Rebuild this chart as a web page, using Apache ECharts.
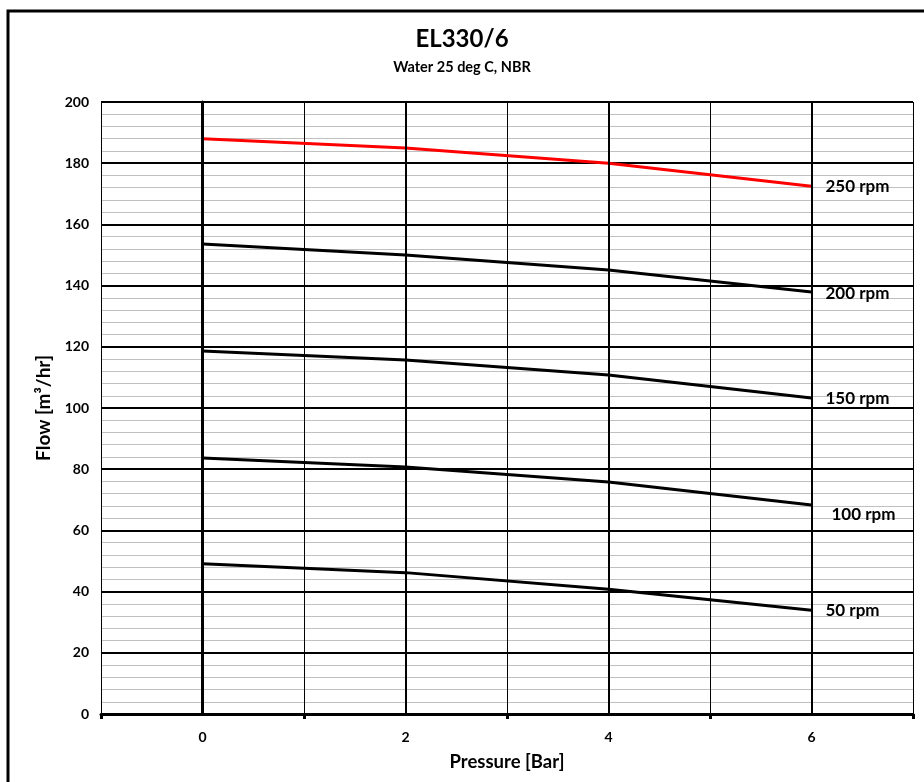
<!DOCTYPE html>
<html>
<head>
<meta charset="utf-8">
<script src="https://cdn.jsdelivr.net/npm/echarts@6/dist/echarts.min.js"></script>
<style>html,body{margin:0;padding:0;background:#fff}#c{width:924px;height:782px}</style>
</head>
<body>
<div id="c"></div>
<script>
const pressure = [0, 2, 4, 6];
const rpm250 = [188, 185, 180, 172.5];
const rpm200 = [153.6, 150, 145.1, 137.9];
const rpm150 = [118.6, 115.7, 110.8, 103.3];
const rpm100 = [83.7, 80.7, 75.8, 68.3];
const rpm50 = [49.1, 46.2, 40.8, 33.9];
const seriesNames = ['250 rpm', '200 rpm', '150 rpm', '100 rpm', '50 rpm'];
const xLabelValues = [0, 2, 4, 6];
const xTickValues = [-1, 1, 3, 5, 7];
const majorVerticals = [0, 2, 4, 6];

const FONT = 'Lato';
const all = [rpm250, rpm200, rpm150, rpm100, rpm50];
const colors = ['#ff0000', '#000000', '#000000', '#000000', '#000000'];
const labelOffsets = [[0, 0], [0, 1], [0, 1], [6, 10], [0, 0]];

const series = all.map((vals, i) => ({
  name: seriesNames[i],
  type: 'line',
  symbol: 'none',
  showSymbol: false,
  lineStyle: { color: colors[i], width: 3 },
  z: 3,
  endLabel: {
    show: true, distance: 14,
    offset: labelOffsets[i],
    formatter: seriesNames[i],
    color: '#000', fontFamily: FONT, fontWeight: 'bold', fontSize: 17
  },
  data: vals.map((v, j) => [pressure[j], v])
}));
series.push({
  type: 'line', data: [], z: 1, silent: true,
  markLine: {
    silent: true, symbol: 'none', label: { show: false },
    lineStyle: { color: '#000', width: 2, type: 'solid' },
    data: majorVerticals.map(v => ({ xAxis: v }))
  }
});

const chart = echarts.init(document.getElementById('c'));
chart.setOption({
  animation: false,
  backgroundColor: '#fff',
  title: {
    text: 'EL330/6', subtext: 'Water 25 deg C, NBR',
    left: 'center', top: 22, itemGap: 9,
    textStyle: { fontFamily: FONT, fontWeight: 'bold', fontSize: 24, color: '#000' },
    subtextStyle: { fontFamily: FONT, fontWeight: 'bold', fontSize: 14.5, color: '#000' }
  },
  graphic: [{
    type: 'rect', shape: { x: 8, y: 11, width: 930, height: 790 },
    style: { fill: 'none', stroke: '#000', lineWidth: 3 }, silent: true
  }],
  grid: { left: 101, right: 11, top: 102, bottom: 68, containLabel: false },
  xAxis: {
    type: 'value', min: -1, max: 7, interval: 1,
    name: 'Pressure [Bar]', nameLocation: 'middle', nameGap: 39,
    nameTextStyle: { fontFamily: FONT, fontWeight: 'bold', fontSize: 18.5, color: '#000' },
    axisLine: { show: true, onZero: false, lineStyle: { color: '#000', width: 3 } },
    axisTick: { show: true, inside: false, length: 5, customValues: xTickValues, lineStyle: { color: '#000', width: 3 } },
    axisLabel: { customValues: xLabelValues, margin: 16, fontFamily: FONT, fontWeight: 'bold', fontSize: 14, color: '#000' },
    splitLine: { show: true, lineStyle: { color: '#000', width: 1 } }
  },
  yAxis: {
    type: 'value', min: 0, max: 200, interval: 20,
    name: 'Flow [m³/hr]', nameLocation: 'middle', nameGap: 47,
    nameTextStyle: { fontFamily: FONT, fontWeight: 'bold', fontSize: 19, color: '#000' },
    axisLine: { show: true, lineStyle: { color: '#000', width: 3 } },
    axisTick: { show: true, inside: false, length: 5, lineStyle: { color: '#000', width: 2 } },
    axisLabel: { margin: 12, fontFamily: FONT, fontWeight: 'bold', fontSize: 14, color: '#000' },
    splitLine: { show: true, lineStyle: { color: '#000', width: 2 } },
    minorTick: { show: false, splitNumber: 5 },
    minorSplitLine: { show: true, lineStyle: { color: '#c0c0c0', width: 1 } }
  },
  series: series
});
</script>
</body>
</html>
